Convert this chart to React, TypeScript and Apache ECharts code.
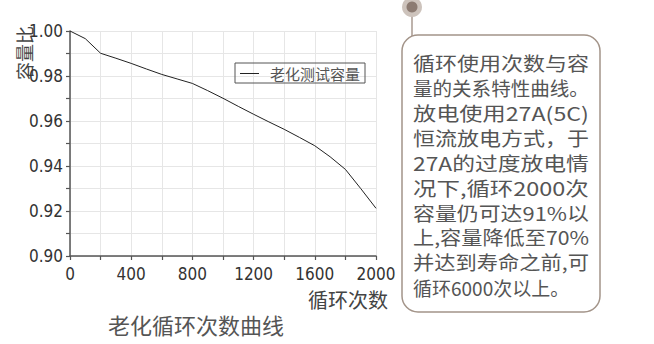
import React, { useEffect, useRef } from "react";
import * as echarts from "echarts";

const cycles = [0, 100, 200, 300, 400, 500, 600, 700, 800, 900, 1000, 1100, 1200, 1300, 1400, 1500, 1600, 1700, 1800, 1900, 2000];
const capacityRatio = [1.0, 0.9966, 0.9901, 0.9879, 0.9856, 0.9831, 0.9807, 0.9787, 0.9767, 0.9735, 0.9701, 0.9665, 0.963, 0.9596, 0.9563, 0.9527, 0.949, 0.9441, 0.9385, 0.930, 0.9212];
const seriesName = "老化测试容量";
const xAxisName = "循环次数";
const yAxisName = "容量比";
const chartTitle = "老化循环次数曲线";
const noteLines = [
  "循环使用次数与容",
  "量的关系特性曲线。",
  "放电使用27A(5C)",
  "恒流放电方式，于",
  "27A的过度放电情",
  "况下,循环2000次",
  "容量仍可达91%以",
  "上,容量降低至70%",
  "并达到寿命之前,可",
  "循环6000次以上。",
];

const CJK = '"Noto Sans CJK SC", "Noto Sans", sans-serif';

function measure(text: string, font: string): number {
  const c = document.createElement("canvas").getContext("2d");
  if (!c) return 0;
  c.font = font;
  return c.measureText(text).width;
}

function pickNarrow(): { family: string; size: number } {
  const probe = "1.00 0.98 2000 mmmWWWiii";
  const base = measure(probe, "40px monospace");
  const cands = ["Liberation Sans Narrow", "DejaVu Sans Condensed", "Roboto Condensed", "Open Sans Condensed", "Arial Narrow"];
  for (const f of cands) {
    const w = measure(probe, `40px "${f}", monospace`);
    if (Math.abs(w - base) > 0.5) return { family: `"${f}"`, size: 17 };
  }
  return { family: '"Liberation Sans"', size: 16 };
}

export default function App() {
  const ref = useRef<HTMLDivElement>(null);
  useEffect(() => {
    document.body.style.margin = "0";
    if (!ref.current) return;
    const chart = echarts.init(ref.current, undefined, { renderer: "svg" });
    const narrow = pickNarrow();
    const noteFontSize = 19;
    const noteFont = `${noteFontSize}px "Noto Sans CJK SC"`;
    const targetW = 176;
    const noteEls = noteLines.map((t, i) => {
      const w = measure(t, noteFont);
      const last = i === noteLines.length - 1;
      const sx = !last && w > 0 ? targetW / w : 1;
      return {
        type: "text",
        x: 413,
        y: 63 + i * 24.9,
        scaleX: sx,
        style: {
          text: t,
          fill: "#555",
          fontSize: noteFontSize,
          fontFamily: CJK,
          textAlign: "left",
          textVerticalAlign: "middle",
        },
      };
    });
    const option: any = {
      animation: false,
      backgroundColor: "#fff",
      grid: { left: 70, top: 31, width: 306, height: 225, containLabel: false },
      legend: {
        left: 235,
        top: 63,
        padding: [3, 5, 2, 5],
        borderColor: "#555",
        borderWidth: 1,
        icon: "rect",
        itemWidth: 19,
        itemHeight: 1,
        textStyle: { fontSize: 15, color: "#555", fontFamily: CJK, padding: [0, 0, 0, 6] },
        data: [seriesName],
      },
      xAxis: {
        type: "value",
        min: 0,
        max: 2000,
        interval: 200,
        axisLine: { show: true, onZero: false, lineStyle: { color: "#555", width: 1.5 } },
        axisTick: { show: true, length: 4, lineStyle: { color: "#555", width: 1.2 } },
        splitLine: { show: true, lineStyle: { color: "#e6e6e6", width: 1 } },
        axisLabel: {
          margin: 9,
          color: "#333",
          fontSize: narrow.size,
          fontFamily: narrow.family,
          formatter: (v: number) => (Math.round(v) % 400 === 0 ? String(Math.round(v)) : ""),
        },
      },
      yAxis: {
        type: "value",
        min: 0.9,
        max: 1.0,
        interval: 0.01,
        axisLine: { show: true, lineStyle: { color: "#555", width: 1.5 } },
        axisTick: { show: true, length: 4, lineStyle: { color: "#555", width: 1.2 } },
        splitLine: { show: true, lineStyle: { color: "#e6e6e6", width: 1 } },
        axisLabel: {
          margin: 7,
          color: "#333",
          fontSize: narrow.size,
          fontFamily: narrow.family,
          formatter: (v: number) => (Math.round(v * 100) % 2 === 0 ? v.toFixed(2) : ""),
        },
      },
      series: [
        {
          name: seriesName,
          type: "line",
          data: cycles.map((c, i) => [c, capacityRatio[i]]),
          symbol: "none",
          smooth: false,
          lineStyle: { color: "#222", width: 1 },
          itemStyle: { color: "#222" },
        },
      ],
      graphic: [
        {
          type: "text",
          x: 24,
          y: 53,
          rotation: Math.PI / 2,
          style: {
            text: yAxisName,
            fill: "#444",
            fontSize: 18,
            fontFamily: CJK,
            textAlign: "center",
            textVerticalAlign: "middle",
          },
        },
        {
          type: "text",
          x: 348,
          y: 299,
          style: {
            text: xAxisName,
            fill: "#444",
            fontSize: 20,
            fontFamily: CJK,
            textAlign: "center",
            textVerticalAlign: "middle",
          },
        },
        {
          type: "text",
          x: 196,
          y: 324,
          style: {
            text: chartTitle,
            fill: "#555",
            fontSize: 22,
            fontFamily: CJK,
            textAlign: "center",
            textVerticalAlign: "middle",
          },
        },
        {
          type: "line",
          shape: { x1: 412, y1: 14, x2: 412, y2: 36 },
          style: { stroke: "#a89a90", lineWidth: 1.5 },
        },
        {
          type: "circle",
          shape: { cx: 412, cy: 7, r: 10 },
          style: { fill: "#cdc3bc" },
        },
        {
          type: "circle",
          shape: { cx: 412, cy: 7, r: 5.5 },
          style: { fill: "#8c7b72" },
        },
        {
          type: "rect",
          shape: { x: 402, y: 35, width: 198, height: 277, r: 16 },
          style: { fill: "#fff", stroke: "#a39489", lineWidth: 1.5 },
        },
        ...noteEls,
      ],
    };
    chart.setOption(option);
    return () => chart.dispose();
  }, []);
  return <div ref={ref} style={{ width: 654, height: 344 }} />;
}
